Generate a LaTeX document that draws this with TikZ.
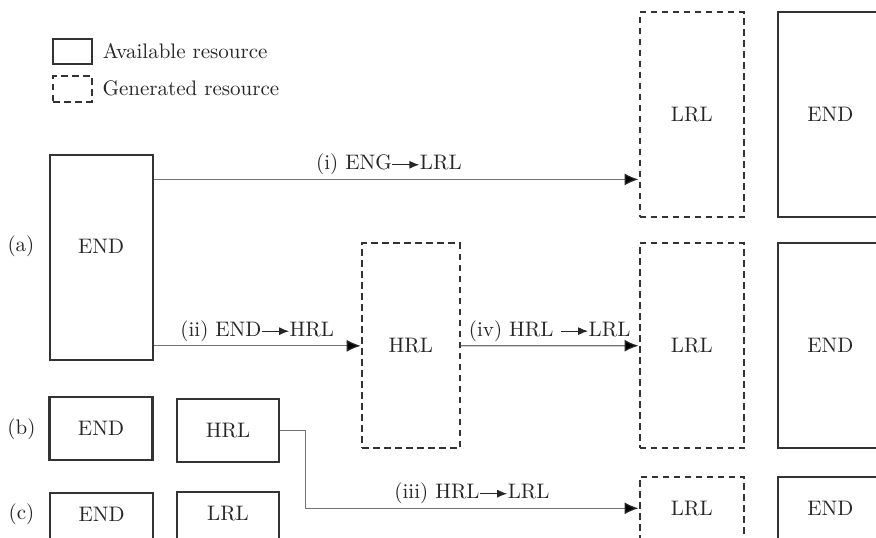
\documentclass[tikz,border=0pt]{standalone}
\usepackage{amsmath}
\usetikzlibrary{positioning,arrows.meta}

\newcommand{\tto}{\tikz[baseline=-0.55ex]\draw[black!85, line width=0.6pt, -{Latex[length=5pt,width=4pt]}] (0,0) -- (13.5pt,0);}

\begin{document}
\begin{tikzpicture}[x=0.5pt, y=-0.5pt,
    every node/.style={font=\fontsize{10.5pt}{12.5pt}\selectfont},
    avail/.style={rectangle, draw=black!80, line width=1.1pt, inner sep=0pt, text=black!85},
    gen/.style={avail, dash pattern=on 3.4pt off 2.1pt},
    flow/.style={draw=black!55, line width=0.65pt, -{Latex[length=7pt,width=6pt,color=black!85]}},
    lab/.style={above, inner sep=2pt, text=black!85},]
    \useasboundingbox (0,0) rectangle (876,537);
    \clip (0,0) rectangle (876,537);
    % legend
    \node[avail, minimum width=19.5pt, minimum height=12.5pt] (legA) at (72.3,51.5) {};
    \node[gen, minimum width=19.2pt, minimum height=12.8pt]   (legG) at (72.5,88.8) {};
    \node[right=1.4pt of legA, text=black!85] (txtA) {Available resource};
    \node[right=1.4pt of legG, text=black!85] (txtG) {Generated resource};
    % row labels
    \node[text=black!85] (labA) at (21,246)   {(a)};
    \node[text=black!85] (labB) at (21.5,429) {(b)};
    \node[text=black!85] (labC) at (21.5,514) {(c)};
    % nodes
    \node[avail, minimum width=51.5pt, minimum height=102.5pt, text depth=11.5pt] (endA) at (101.2,257.5) {END};
    \node[gen,   minimum width=49pt,   minimum height=102.5pt] (hrlA) at (410.8,345.8) {HRL};
    \node[gen,   minimum width=52.2pt, minimum height=102.5pt] (lrlT) at (691.8,114.8) {LRL};
    \node[avail, minimum width=52pt,   minimum height=102.5pt] (endT) at (830.3,114.8) {END};
    \node[gen,   minimum width=52.2pt, minimum height=102.5pt] (lrlM) at (691.8,345.7) {LRL};
    \node[avail, minimum width=52pt,   minimum height=102.5pt] (endM) at (830.3,345.7) {END};
    \node[avail, minimum width=51.5pt, minimum height=31.5pt]  (endB) at (101,428.3)   {END};
    \node[avail, minimum width=51.3pt, minimum height=31.2pt]  (hrlB) at (228,430.5)   {HRL};
    \node[avail, minimum width=51.5pt, minimum height=31.5pt, text depth=10pt, anchor=north] (endC) at (101.7,491.5) {END};
    \node[avail, minimum width=51.3pt, minimum height=31.5pt, text depth=10pt, anchor=north] (lrlC) at (228,490.7)   {LRL};
    \node[gen,   minimum width=52.2pt, minimum height=31.5pt, anchor=north] (lrlD) at (691.8,475.7) {LRL};
    \node[avail, minimum width=52pt,   minimum height=31.5pt, anchor=north] (endD) at (830.3,475.7) {END};
    % lines
    \draw[flow] ([yshift=-12.75pt]endA.north east) -- ([yshift=-12.75pt]endA.north east -| lrlT.west)
        node[lab, pos=0.485] {(i) ENG\tto LRL};
    \draw[flow] (endA.east |- hrlA.west) -- (hrlA.west) node[lab, midway] {(ii) END\tto HRL};
    \draw[flow] (hrlA.east) -- (lrlM.west) node[lab, midway] {(iv) HRL \tto LRL};
    \draw[flow] (hrlB.east) -- ++(25,0) |- (lrlD.west) node[lab, pos=0.75] {(iii) HRL\tto LRL};
\end{tikzpicture}
\end{document}
